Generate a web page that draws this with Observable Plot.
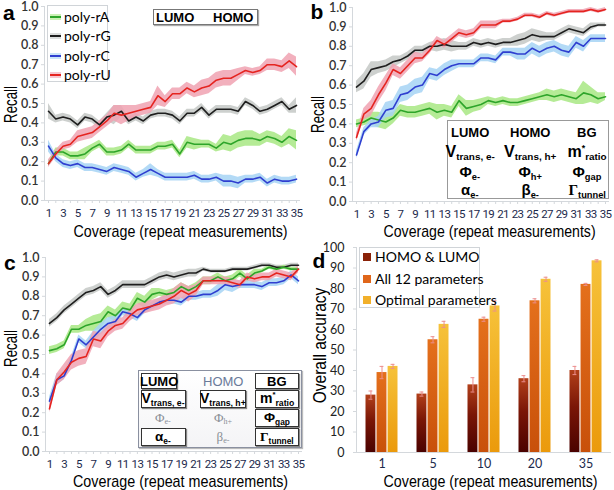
<!DOCTYPE html>
<html><head><meta charset="utf-8">
<script src="https://cdn.jsdelivr.net/npm/d3@7"></script>
<script src="https://cdn.jsdelivr.net/npm/@observablehq/plot@0.6"></script>
<style>
body{margin:0;background:#fff;}
#wrap{position:relative;width:614px;height:490px;overflow:hidden;font-family:"Liberation Sans",Arial,sans-serif;color:#000;}
.panel{position:absolute;}
.panel svg{overflow:visible;}
.t{position:absolute;white-space:nowrap;line-height:1;}
.box{position:absolute;box-sizing:border-box;}
.bx{position:absolute;box-sizing:border-box;border:1.5px solid #333;box-shadow:1px 1px 1px #888;background:#fff;}
sub{font-size:0.62em;vertical-align:-0.3em;}
.cov-labels text{letter-spacing:-0.7px;}
</style></head><body><div id="wrap"></div>
<script>
// ---------------- data ----------------
const coverage = [1,2,3,4,5,6,7,8,9,10,11,12,13,14,15,16,17,18,19,20,21,22,23,24,25,26,27,28,29,30,31,32,33,34,35];
const coverageLabels = [1,3,5,7,9,11,13,15,17,19,21,23,25,27,29,31,33,35];
const recallTicks = [0,0.1,0.2,0.3,0.4,0.5,0.6,0.7,0.8,0.9,1.0];
const seriesNames = ["poly-rA","poly-rG","poly-rC","poly-rU"];

// panel a (LUMO, HOMO)
const aPolyA = [0.19,0.25,0.25,0.23,0.23,0.24,0.27,0.29,0.25,0.25,0.26,0.29,0.26,0.26,0.26,0.28,0.28,0.29,0.24,0.30,0.29,0.29,0.29,0.27,0.30,0.29,0.31,0.32,0.32,0.31,0.33,0.32,0.30,0.33,0.31];
const aPolyG = [0.46,0.42,0.43,0.42,0.39,0.43,0.42,0.39,0.43,0.44,0.46,0.41,0.43,0.41,0.44,0.45,0.45,0.44,0.41,0.45,0.45,0.48,0.44,0.47,0.47,0.47,0.46,0.51,0.49,0.46,0.47,0.49,0.51,0.47,0.49];
const aPolyC = [0.28,0.22,0.19,0.18,0.19,0.17,0.17,0.16,0.15,0.17,0.16,0.15,0.12,0.14,0.16,0.14,0.12,0.12,0.12,0.12,0.13,0.11,0.11,0.12,0.10,0.10,0.09,0.11,0.11,0.12,0.09,0.11,0.10,0.10,0.11];
const aPolyU = [0.19,0.24,0.28,0.29,0.33,0.34,0.35,0.38,0.41,0.45,0.44,0.45,0.46,0.47,0.48,0.54,0.51,0.55,0.55,0.58,0.56,0.58,0.59,0.62,0.63,0.63,0.65,0.67,0.66,0.67,0.70,0.70,0.69,0.72,0.69];
const aErrA = [0.01,0.02,0.02,0.02,0.02,0.03,0.02,0.02,0.02,0.02,0.02,0.02,0.02,0.02,0.02,0.02,0.02,0.02,0.02,0.03,0.03,0.02,0.02,0.02,0.04,0.04,0.04,0.04,0.04,0.03,0.03,0.03,0.03,0.04,0.05];
const aErrG = [0.04,0.02,0.02,0.02,0.02,0.02,0.02,0.02,0.02,0.05,0.03,0.02,0.02,0.02,0.02,0.02,0.02,0.02,0.02,0.02,0.02,0.02,0.02,0.02,0.02,0.02,0.02,0.02,0.02,0.02,0.02,0.02,0.02,0.02,0.04];
const aErrC = [0.03,0.02,0.02,0.02,0.02,0.02,0.02,0.02,0.02,0.02,0.02,0.02,0.02,0.02,0.03,0.02,0.02,0.02,0.02,0.02,0.02,0.02,0.02,0.02,0.03,0.03,0.03,0.02,0.02,0.02,0.02,0.02,0.02,0.02,0.02];
const aErrU = [0.02,0.02,0.02,0.02,0.03,0.03,0.03,0.03,0.03,0.04,0.05,0.04,0.03,0.03,0.03,0.05,0.03,0.03,0.03,0.03,0.03,0.04,0.04,0.04,0.04,0.04,0.03,0.02,0.02,0.02,0.03,0.03,0.03,0.04,0.05];

// panel b (all 12 parameters)
const bPolyA = [0.40,0.41,0.43,0.42,0.41,0.43,0.47,0.46,0.46,0.47,0.48,0.46,0.47,0.46,0.52,0.48,0.49,0.50,0.52,0.51,0.52,0.51,0.51,0.52,0.53,0.54,0.55,0.54,0.55,0.54,0.53,0.56,0.55,0.53,0.54];
const bPolyG = [0.59,0.62,0.68,0.69,0.70,0.72,0.73,0.75,0.78,0.78,0.80,0.80,0.81,0.80,0.80,0.80,0.82,0.81,0.82,0.81,0.82,0.82,0.83,0.84,0.86,0.85,0.85,0.85,0.87,0.89,0.88,0.87,0.90,0.91,0.91];
const bPolyC = [0.24,0.36,0.40,0.41,0.47,0.48,0.55,0.56,0.59,0.60,0.66,0.65,0.68,0.70,0.71,0.71,0.71,0.74,0.74,0.73,0.77,0.77,0.76,0.76,0.79,0.77,0.79,0.80,0.78,0.77,0.82,0.80,0.84,0.84,0.84];
const bPolyU = [0.33,0.45,0.48,0.55,0.61,0.68,0.66,0.70,0.74,0.74,0.78,0.83,0.81,0.84,0.87,0.86,0.87,0.91,0.91,0.91,0.93,0.93,0.94,0.96,0.96,0.95,0.97,0.96,0.97,0.98,0.98,0.98,0.99,0.98,0.99];
const bErrA = [0.02,0.02,0.03,0.04,0.04,0.03,0.03,0.03,0.03,0.03,0.03,0.04,0.03,0.03,0.03,0.04,0.03,0.03,0.02,0.02,0.02,0.02,0.02,0.02,0.02,0.02,0.03,0.03,0.03,0.03,0.03,0.06,0.04,0.03,0.02];
const bErrG = [0.03,0.04,0.04,0.03,0.03,0.03,0.02,0.02,0.02,0.02,0.02,0.03,0.03,0.03,0.02,0.02,0.02,0.02,0.02,0.02,0.02,0.02,0.03,0.03,0.03,0.03,0.02,0.02,0.02,0.02,0.02,0.02,0.02,0.01,0.01];
const bErrC = [0.02,0.02,0.02,0.03,0.04,0.04,0.04,0.04,0.04,0.04,0.03,0.03,0.03,0.03,0.02,0.02,0.02,0.02,0.02,0.02,0.02,0.02,0.03,0.03,0.03,0.03,0.03,0.03,0.03,0.03,0.03,0.03,0.02,0.02,0.02];
const bErrU = [0.02,0.03,0.04,0.04,0.04,0.03,0.03,0.03,0.03,0.02,0.02,0.02,0.02,0.02,0.02,0.02,0.02,0.02,0.02,0.02,0.01,0.01,0.01,0.01,0.01,0.01,0.01,0.01,0.01,0.01,0.01,0.01,0.01,0.01,0.01];

// panel c (optimal parameters)
const cPolyA = [0.52,0.53,0.55,0.63,0.63,0.65,0.66,0.67,0.72,0.70,0.74,0.73,0.79,0.77,0.81,0.82,0.81,0.82,0.85,0.83,0.85,0.88,0.88,0.90,0.88,0.89,0.92,0.89,0.92,0.93,0.95,0.94,0.95,0.94,0.94];
const cPolyG = [0.66,0.69,0.73,0.76,0.79,0.82,0.83,0.85,0.81,0.83,0.86,0.86,0.86,0.86,0.88,0.90,0.91,0.90,0.91,0.92,0.92,0.94,0.93,0.93,0.93,0.94,0.94,0.94,0.95,0.96,0.96,0.95,0.95,0.96,0.96];
const cPolyC = [0.26,0.37,0.39,0.47,0.58,0.55,0.59,0.63,0.66,0.67,0.72,0.71,0.69,0.73,0.75,0.77,0.78,0.78,0.77,0.80,0.80,0.81,0.81,0.83,0.86,0.85,0.86,0.86,0.86,0.85,0.87,0.87,0.88,0.91,0.88];
const cPolyU = [0.22,0.37,0.41,0.46,0.48,0.49,0.58,0.57,0.62,0.65,0.66,0.70,0.73,0.74,0.75,0.76,0.78,0.80,0.83,0.81,0.83,0.88,0.88,0.88,0.88,0.87,0.86,0.90,0.89,0.90,0.90,0.92,0.91,0.90,0.94];
const cErrA = [0.02,0.02,0.02,0.02,0.02,0.03,0.04,0.04,0.03,0.03,0.03,0.03,0.03,0.03,0.03,0.02,0.02,0.02,0.02,0.02,0.02,0.02,0.02,0.02,0.02,0.02,0.02,0.02,0.02,0.01,0.01,0.01,0.01,0.01,0.01];
const cErrG = [0.02,0.02,0.02,0.02,0.02,0.02,0.02,0.02,0.02,0.02,0.02,0.02,0.02,0.02,0.02,0.02,0.02,0.02,0.02,0.02,0.02,0.01,0.01,0.01,0.01,0.01,0.01,0.01,0.01,0.01,0.01,0.01,0.01,0.01,0.01];
const cErrC = [0.02,0.03,0.02,0.02,0.02,0.02,0.03,0.03,0.03,0.03,0.02,0.02,0.02,0.02,0.02,0.02,0.02,0.02,0.02,0.02,0.02,0.02,0.02,0.03,0.03,0.03,0.02,0.02,0.02,0.02,0.02,0.02,0.02,0.02,0.02];
const cErrU = [0.02,0.03,0.04,0.04,0.04,0.04,0.04,0.04,0.03,0.03,0.03,0.03,0.03,0.03,0.03,0.03,0.03,0.04,0.04,0.04,0.03,0.02,0.02,0.02,0.02,0.02,0.02,0.02,0.02,0.02,0.02,0.02,0.02,0.02,0.02];

// panel d (overall accuracy)
const dCoverage = [1,5,10,20,35];
const dGroups = ["HOMO & LUMO","All 12 parameters","Optimal parameters"];
const dHomoLumo = [28,28.5,33,36,40];
const dHomoLumoErr = [2,1,3.5,1.5,2];
const dAll12 = [39,55,65,74,82];
const dAll12Err = [3,1.5,1,1,0.5];
const dOptimal = [42,62.5,71.5,84.5,93.5];
const dOptimalErr = [1,1.5,2.5,1,0.5];
const accuracyTicks = [0,10,20,30,40,50,60,70,80,90,100];

// ---------------- styling ----------------
const lineColors = {"poly-rA":"#2ea52a","poly-rG":"#1e1e1e","poly-rC":"#2f3fd0","poly-rU":"#e52420"};
const bandColors = {"poly-rA":"#a8e884","poly-rG":"#c4c8c6","poly-rC":"#a6d4f4","poly-rU":"#f0a2b2"};
const tickFont = "Lato, 'Open Sans', sans-serif";

const wrap = document.getElementById("wrap");

function rows(vals, errs, name){
  return coverage.map((x,i)=>({x, y: vals[i], lo: vals[i]-errs[i], hi: vals[i]+errs[i], s: name}));
}

function linePanel(sets, pos, m){
  const marks = [];
  sets.forEach(([name, vals, errs]) => {
    marks.push(Plot.areaY(rows(vals, errs, name), {x:"x", y1:"lo", y2:"hi", fill: bandColors[name], fillOpacity: 0.85}));
  });
  sets.forEach(([name, vals, errs]) => {
    marks.push(Plot.lineY(rows(vals, errs, name), {x:"x", y:"y", stroke: lineColors[name], strokeWidth: 1.6}));
  });
  marks.push(Plot.ruleY([0], {stroke:"#d4d8dc"}));
  marks.push(Plot.frame({anchor:"left", stroke:"#d4d8dc"}));
  marks.push(Plot.axisY(recallTicks, {tickSize:3, tickPadding:3, stroke:"#d4d8dc", fill:"#333", fontSize:12.5, fontWeight:600, fontFamily: tickFont, tickFormat: d3.format(".1f"), label:null}));
  marks.push(Plot.axisX(coverage, {tickSize:3, stroke:"#d4d8dc", tickFormat: () => "", label:null}));
  marks.push(Plot.axisX(coverageLabels, {tickSize:0, tickPadding:8, fill:"#1c2a4c", fontSize:11.5, fontFamily: "Roboto, sans-serif", label:null, className:"cov-labels"}));
  const svg = Plot.plot({
    width: 307, height: 245,
    marginLeft: m.l, marginRight: m.r, marginTop: m.t, marginBottom: m.b,
    x: {domain:[1,35], insetLeft:4, insetRight:4},
    y: {domain:[0,1]},
    style: {background:"transparent", overflow:"visible"},
    marks
  });
  // tighten the odd coverage labels (they are the non-empty x tick texts)
  d3.select(svg).selectAll("text").filter(function(){ return /^\d+$/.test(this.textContent) && this.getAttribute("text-anchor") !== "end"; })
    .style("letter-spacing","-0.7px");
  const div = document.createElement("div");
  div.className = "panel";
  div.style.left = pos[0]+"px"; div.style.top = pos[1]+"px";
  div.appendChild(svg);
  wrap.appendChild(div);
}

linePanel([["poly-rG",aPolyG,aErrG],["poly-rA",aPolyA,aErrA],["poly-rC",aPolyC,aErrC],["poly-rU",aPolyU,aErrU]], [0,0], {l:44, r:7, t:6, b:45});
linePanel([["poly-rG",bPolyG,bErrG],["poly-rA",bPolyA,bErrA],["poly-rC",bPolyC,bErrC],["poly-rU",bPolyU,bErrU]], [307,0], {l:45, r:5, t:7, b:44});
linePanel([["poly-rG",cPolyG,cErrG],["poly-rA",cPolyA,cErrA],["poly-rC",cPolyC,cErrC],["poly-rU",cPolyU,cErrU]], [0,245], {l:45, r:5, t:12, b:39});

// panel d
{
  const lists = [[dHomoLumo,dHomoLumoErr],[dAll12,dAll12Err],[dOptimal,dOptimalErr]];
  const fills = ["url(#gradHL)","url(#gradA12)","url(#gradOpt)"];
  const marks = [];
  const gap = 11.05;
  lists.forEach(([vals, errs], i) => {
    const data = dCoverage.map((c,k)=>({c, v: vals[k], lo: vals[k]-errs[k], hi: vals[k]+errs[k]}));
    marks.push(Plot.barY(data, {x:"c", y:"v", fill: fills[i], insetLeft: i*gap+0.5, insetRight:(2-i)*gap+0.5}));
    marks.push(Plot.ruleX(data, {x:"c", y1:"lo", y2:"hi", dx:(i-1)*gap, stroke:"#ec8f8f", strokeWidth:1}));
    marks.push(Plot.tickY(data, {x:"c", y:"lo", insetLeft: i*gap+3.5, insetRight:(2-i)*gap+3.5, stroke:"#ec8f8f"}));
    marks.push(Plot.tickY(data, {x:"c", y:"hi", insetLeft: i*gap+3.5, insetRight:(2-i)*gap+3.5, stroke:"#ec8f8f"}));
  });
  marks.push(Plot.ruleY([0], {stroke:"#d4d8dc"}));
  marks.push(Plot.frame({anchor:"left", stroke:"#d4d8dc"}));
  marks.push(Plot.axisY(accuracyTicks, {tickSize:3, tickPadding:9, stroke:"#d4d8dc", fill:"#222", fontSize:12.5, fontFamily: tickFont, label:null}));
  marks.push(Plot.axisX(dCoverage, {tickSize:0, tickPadding:7, fill:"#1c2a4c", fontSize:12.5, fontFamily: tickFont, label:null}));
  const svg = Plot.plot({
    width: 307, height: 255,
    marginLeft: 49, marginRight: 3, marginTop: 12, marginBottom: 38,
    x: {type:"band", domain: dCoverage, paddingInner:0.35, paddingOuter:0.175},
    y: {domain:[0,100]},
    style: {background:"transparent", overflow:"visible"},
    marks
  });
  const ns = "http://www.w3.org/2000/svg";
  const defs = document.createElementNS(ns, "defs");
  defs.innerHTML = `
    <linearGradient id="gradHL" x1="0" y1="1" x2="0" y2="0"><stop offset="0" stop-color="#4a0200"/><stop offset="0.55" stop-color="#7a1606"/><stop offset="1" stop-color="#b2401a"/></linearGradient>
    <linearGradient id="gradA12" x1="0" y1="1" x2="0" y2="0"><stop offset="0" stop-color="#c8500a"/><stop offset="1" stop-color="#e4701c"/></linearGradient>
    <linearGradient id="gradOpt" x1="0" y1="1" x2="0" y2="0"><stop offset="0" stop-color="#eb9a0c"/><stop offset="1" stop-color="#f6c23a"/></linearGradient>`;
  svg.insertBefore(defs, svg.firstChild);
  const div = document.createElement("div");
  div.className = "panel";
  div.style.left = "307px"; div.style.top = "235px";
  div.appendChild(svg);
  wrap.appendChild(div);
}

// ---------------- text helpers ----------------
function txt(html, cx, cy, css, fitW, rot){
  const d = document.createElement("div");
  d.className = "t";
  d.innerHTML = html;
  Object.assign(d.style, css || {});
  wrap.appendChild(d);
  const w = d.offsetWidth, h = d.offsetHeight;
  const sx = fitW ? fitW / w : 1;
  d.style.left = (cx - w/2) + "px";
  d.style.top = (cy - h/2) + "px";
  d.style.transform = (rot ? `rotate(${rot}deg) ` : "") + `scaleX(${sx})`;
  return d;
}
function box(x,y,w,h,cls,css){
  const d = document.createElement("div");
  d.className = cls;
  Object.assign(d.style, {left:x+"px", top:y+"px", width:w+"px", height:h+"px"}, css||{});
  wrap.appendChild(d);
  return d;
}

// panel letters
const letterCss = {fontWeight:"bold", fontSize:"21px"};
txt("a", 9, 12, letterCss);
txt("b", 317, 11, letterCss);
txt("c", 10, 262, letterCss);
txt("d", 319, 260, letterCss);

// axis titles
const titleCss = {fontSize:"17px"};
txt("Coverage (repeat measurements)", 180, 231, titleCss, 214);
txt("Coverage (repeat measurements)", 489, 231, titleCss, 212);
txt("Coverage (repeat measurements)", 180, 481, titleCss, 215);
txt("Coverage (repeat measurements)", 490, 481, titleCss, 214);
txt("Recall", 10, 104, {fontSize:"19px"}, 37, -90);
txt("Recall", 317, 114, {fontSize:"19px"}, 37, -90);
txt("Recall", 10, 348, {fontSize:"19px"}, 37, -90);
txt("Overall accuracy", 320, 345, {fontSize:"19px"}, 116, -90);

// panel a legend
box(47, 5, 61, 77, "box", {border:"1px solid #d0d4d8"});
seriesNames.forEach((n,i) => {
  const y = 17 + i*19.3;
  box(50, y-3, 11, 6, "box", {background: bandColors[n], opacity:0.6});
  box(50, y-1, 11, 2, "box", {background: lineColors[n]});
  const t = txt(n, 0, y, {fontFamily: tickFont, fontSize:"14px"});
  t.style.left = "64px";
});
// panel a LUMO/HOMO box
box(153, 9, 105, 16, "box", {border:"1px solid #777", boxShadow:"1px 1px 1px #aaa"});
const hdCss = {fontWeight:"bold", fontSize:"13px"};
txt("LUMO", 175, 17, hdCss);
txt("HOMO", 233, 17, hdCss);

// panel b parameter box
box(447, 120, 162, 79, "box", {border:"1.5px solid #999", background:"#fff"});
const colB = [470, 530, 587];
const vCss = {fontWeight:"bold", fontSize:"16px"};
const pCss = {fontWeight:"bold", fontSize:"15px"};
txt("LUMO", colB[0], 132, hdCss); txt("HOMO", colB[1], 132, hdCss); txt("BG", colB[2], 132, hdCss);
txt("V<sub>trans, e-</sub>", colB[0], 153, vCss); txt("V<sub>trans, h+</sub>", colB[1], 153, vCss); txt("m<sup style='font-size:0.55em'>*</sup><sub>ratio</sub>", colB[2], 153, vCss);
txt("Φ<sub>e-</sub>", colB[0], 173, pCss); txt("Φ<sub>h+</sub>", colB[1], 173, pCss); txt("Φ<sub>gap</sub>", colB[2], 173, pCss);
txt("α<sub>e-</sub>", colB[0], 191, pCss); txt("β<sub>e-</sub>", colB[1], 191, pCss); txt("<span style='font-family:Liberation Serif'>Γ</span><sub>tunnel</sub>", colB[2], 191, pCss);

// panel c parameter box
box(138, 370, 164, 78, "box", {border:"1.5px solid #8a90a0", background:"linear-gradient(#fff,#f4f4f6)", boxShadow:"1px 1px 1px #bbb"});
box(141, 373, 36, 16, "bx"); box(255, 373, 44, 16, "bx");
box(141, 390, 45, 18, "bx"); box(200, 390, 46, 18, "bx"); box(255, 390, 44, 18, "bx");
box(255, 409, 44, 18, "bx");
box(141, 428, 45, 18, "bx"); box(255, 428, 44, 18, "bx");
const grey = {fontWeight:"normal", fontSize:"13px", color:"#8a8f96", fontFamily:"Liberation Serif, serif"};
const vcCss = {fontWeight:"bold", fontSize:"14px"};
const pcCss = {fontWeight:"bold", fontSize:"13.5px"};
txt("LUMO", 159, 381, hdCss); txt("HOMO", 223, 381, {fontWeight:"normal", fontSize:"13px", color:"#6a7a9a"}); txt("BG", 277, 381, hdCss);
txt("V<sub>trans, e-</sub>", 163, 399, vcCss); txt("V<sub>trans, h+</sub>", 223, 399, vcCss); txt("m<sup style='font-size:0.55em'>*</sup><sub>ratio</sub>", 277, 399, vcCss);
txt("Φ<sub>e-</sub>", 163, 418, grey); txt("Φ<sub>h+</sub>", 223, 418, grey); txt("Φ<sub>gap</sub>", 277, 418, pcCss);
txt("α<sub>e-</sub>", 163, 437, pcCss); txt("β<sub>e-</sub>", 223, 437, grey); txt("<span style='font-family:Liberation Serif'>Γ</span><sub>tunnel</sub>", 277, 437, pcCss);

// panel d legend
box(359, 247, 121, 61, "box", {border:"1px solid #d0d4d8", background:"#fff"});
const swatch = ["#8a2208","#e0661a","#f2b02a"];
dGroups.forEach((g,i) => {
  const y = 257 + i*21.5;
  box(363, y-4, 8, 8, "box", {background: swatch[i]});
  const t = txt(g, 0, y, {fontFamily: tickFont, fontSize:"14px"});
  t.style.left = "375px";
});
</script>
</body></html>
